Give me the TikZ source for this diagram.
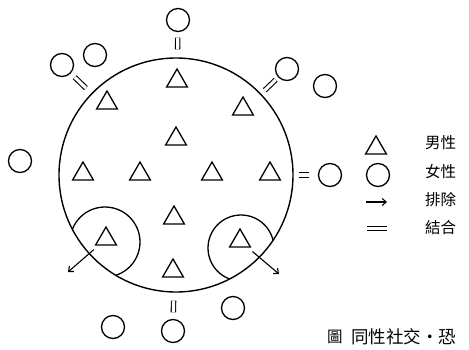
\documentclass[tikz,border=0pt]{standalone}
\usepackage{fontspec}
\newfontfamily\cjk{Noto Sans CJK TC}
\usetikzlibrary{shapes.geometric,arrows.meta}
\tikzset{
  tri/.style={regular polygon, regular polygon sides=3, draw, minimum size=24pt, inner sep=0pt, line width=1.3pt},
  fem/.style={circle, draw, minimum size=23pt, inner sep=0pt, line width=1.3pt},
  eq/.style={double, double distance=3.2pt, line width=1.1pt},
  arr/.style={line width=1.1pt, -{Straight Barb[length=4pt,width=7pt]}},
  lab/.style={anchor=west, inner sep=0pt, font=\cjk\fontsize{15.5}{18}\selectfont},
}
\begin{document}
\begin{tikzpicture}[x=1pt, y=-1pt]
\useasboundingbox (0,0) rectangle (469,349);
% society circle
\node[circle, draw, minimum size=234pt, inner sep=0pt, line width=1.4pt] (S) at (176,175) {};
% exclusion circles, clipped to the society
\begin{scope}
  \clip (176,175) circle (117);
  \node[circle, draw, minimum size=70pt, inner sep=0pt, line width=1.3pt] (E1) at (105,242) {};
  \node[circle, draw, minimum size=66pt, inner sep=0pt, line width=1.3pt] (E2) at (241,248) {};
\end{scope}
% men
\node[tri] (t1) at (177,81) {};
\node[tri] (t2) at (107,103) {};
\node[tri] (t3) at (243,109) {};
\node[tri] (t4) at (176,139) {};
\node[tri] (t5) at (83,174) {};
\node[tri] (t6) at (140,174) {};
\node[tri] (t7) at (212,174) {};
\node[tri] (t8) at (270,174) {};
\node[tri] (t9) at (174,218) {};
\node[tri] (t10) at (173,271) {};
\node[tri] (tL) at (106,239) {};
\node[tri] (tR) at (240,241) {};
% women
\node[fem] (wT) at (178,20) {};
\node[fem] (wUL1) at (62,65) {};
\node[fem] (wUL2) at (95,55) {};
\node[fem] (wUR1) at (287,69) {};
\node[fem] (wUR2) at (325,86) {};
\node[fem] (wL) at (20,161) {};
\node[fem] (wR) at (330,175) {};
\node[fem] (wB) at (173,331) {};
\node[fem] (wBL) at (113,327) {};
\node[fem] (wBR) at (233,308) {};
% bonds
\draw[eq, shorten <=5.5pt, shorten >=8pt] (wT) -- (S);
\draw[eq, shorten <=5.5pt, shorten >=7.5pt] (wUL1) -- (S);
\draw[eq, shorten <=3.5pt, shorten >=5pt] (wUR1) -- (S);
\draw[eq, shorten <=8.5pt, shorten >=5pt] (wR) -- (S);
\draw[eq, shorten <=6.5pt, shorten >=8pt] (wB) -- (S);
% exclusion arrows
\coordinate (aL) at (68,272);
\coordinate (aR) at (279,274);
\draw[arr, shorten <=6pt] (tL) -- (aL);
\draw[arr, shorten <=6pt] (tR) -- (aR);
% legend
\node[tri] (lt) at (376,148) {};
\node[fem] (lc) at (378,175) {};
\coordinate (la1) at (366,202);
\coordinate (la2) at (387,202);
\draw[arr] (la1) -- (la2);
\coordinate (le1) at (367,228.5);
\coordinate (le2) at (387,228.5);
\draw[eq] (le1) -- (le2);
\node[lab] (l1) at (425,143) {男性};
\node[lab] (l2) at (425,172) {女性};
\node[lab] (l3) at (425,200) {排除};
\node[lab] (l4) at (425,228) {結合};
% caption
\node[lab] (c1) at (327,337) {圖};
\node[lab, font=\cjk\fontsize{17.5}{20}\selectfont] (c2) at (351,337) {同性社交・恐};
\end{tikzpicture}
\end{document}
